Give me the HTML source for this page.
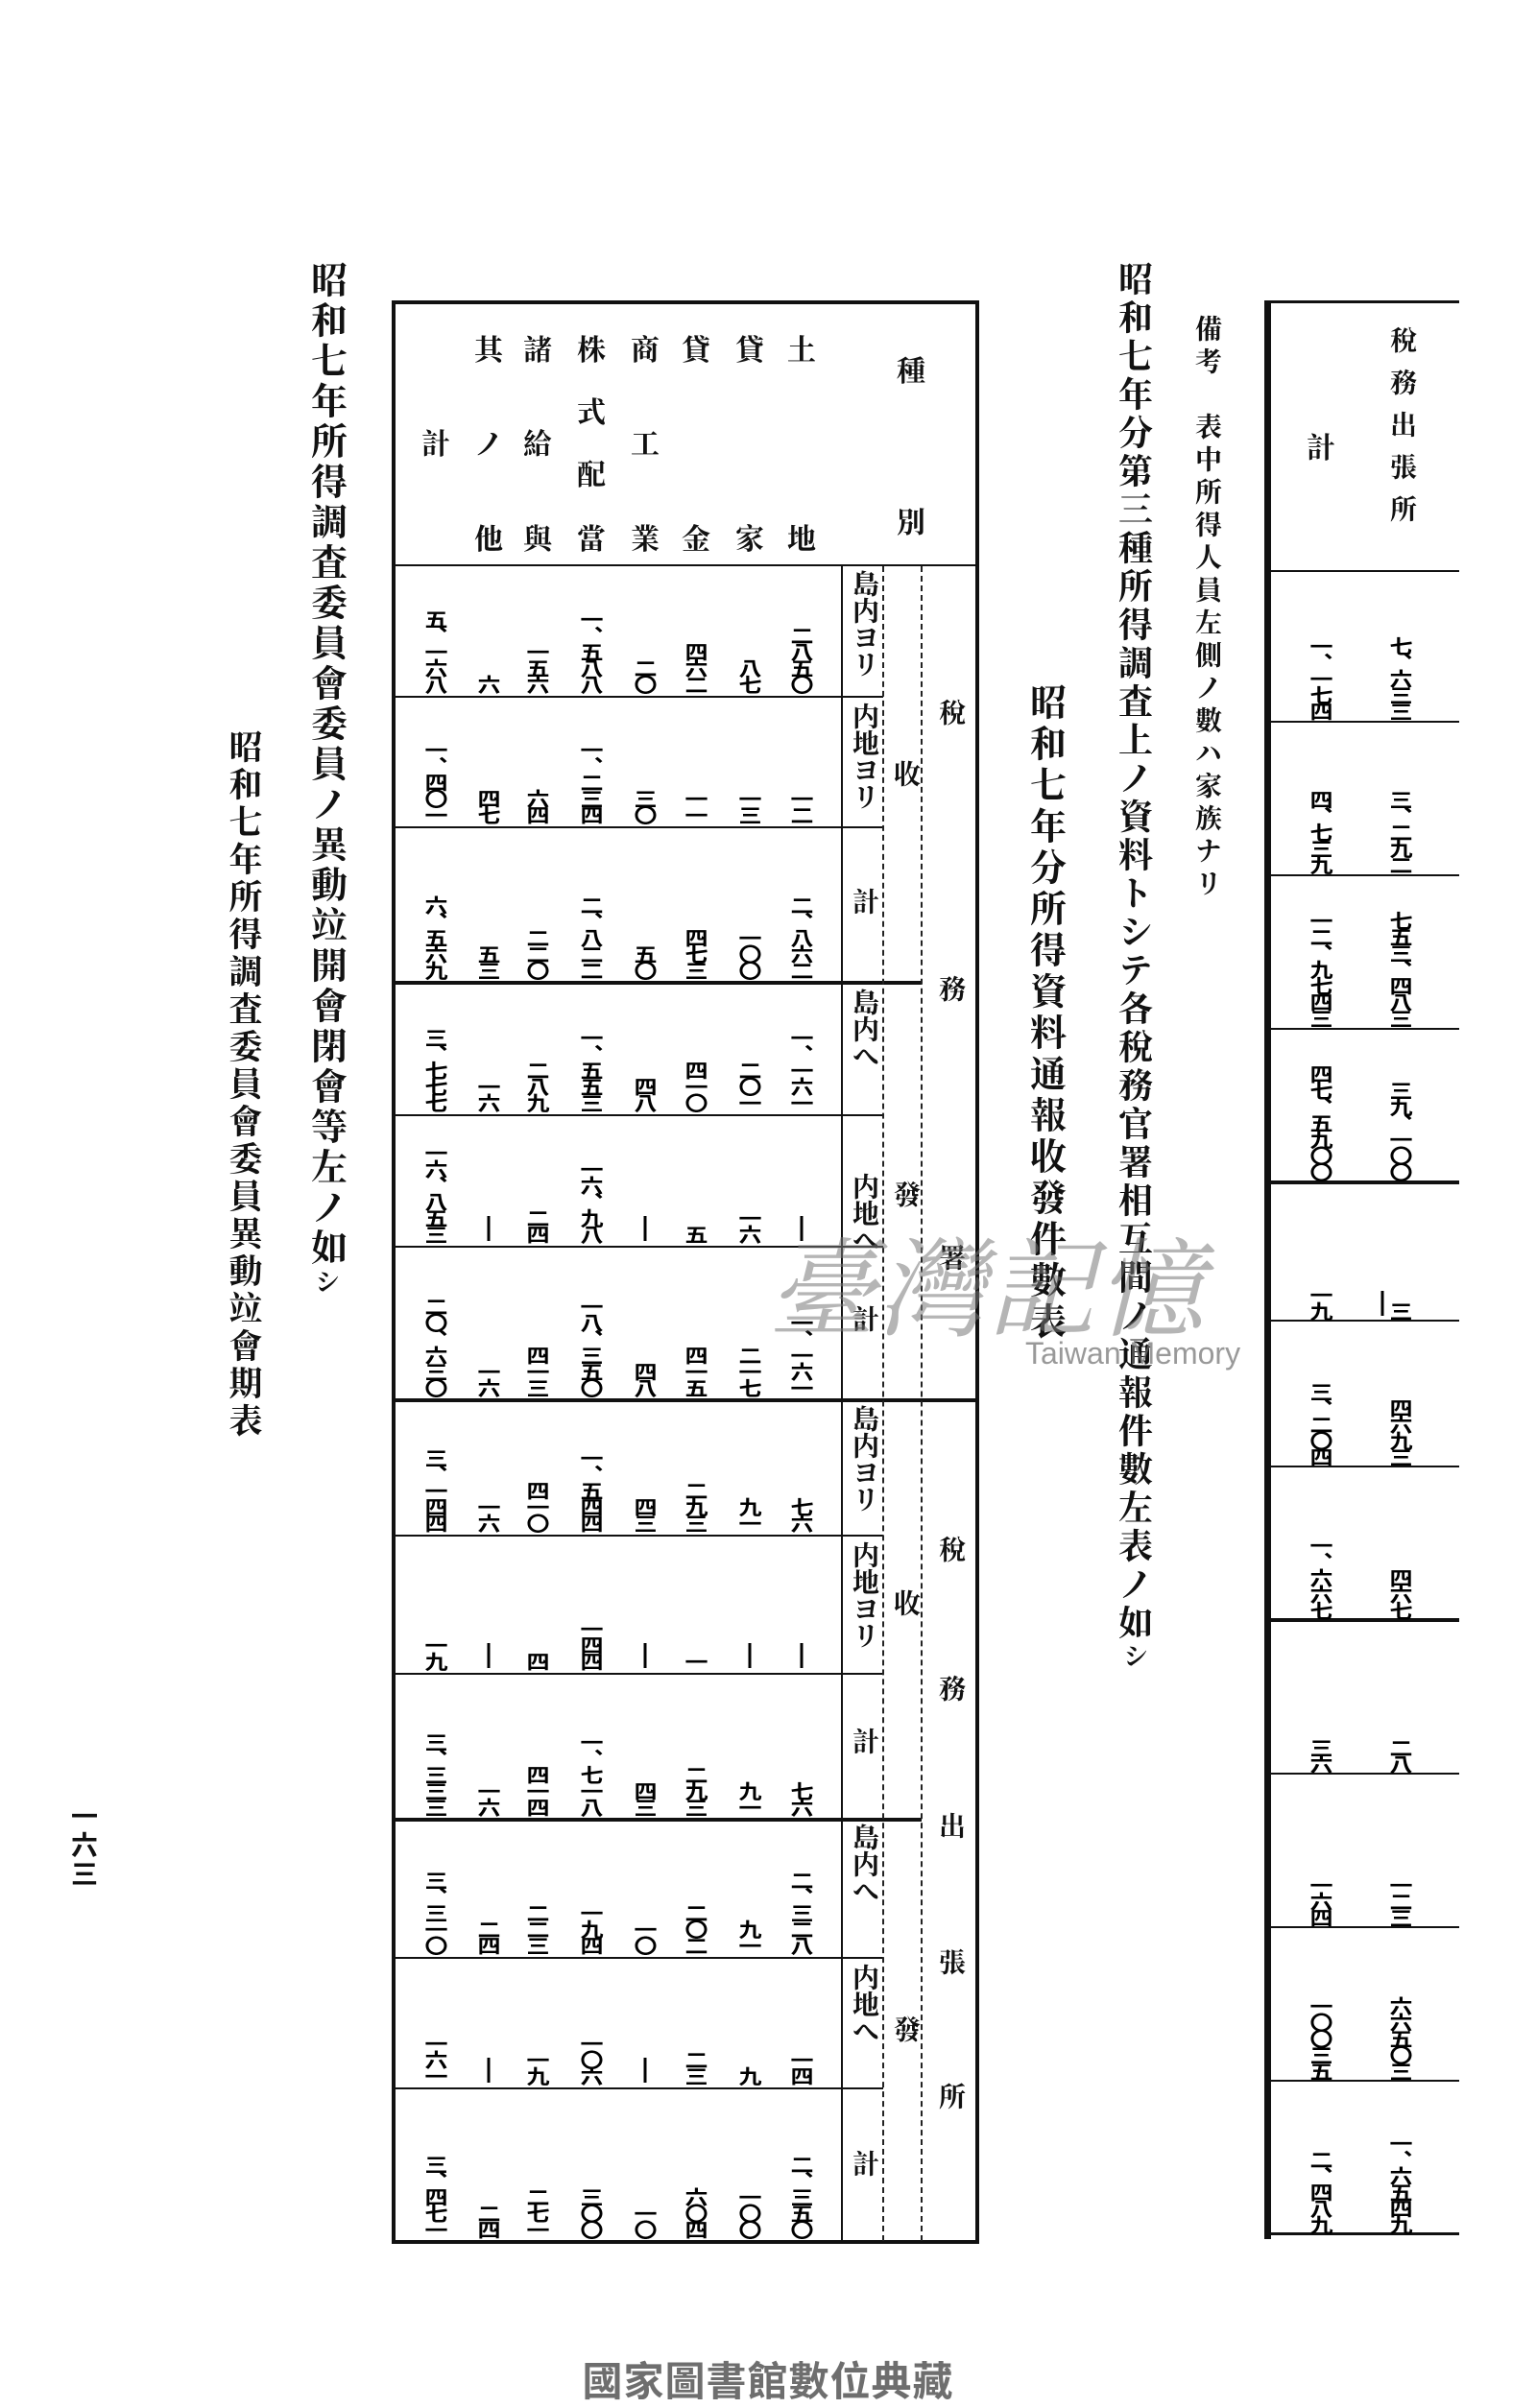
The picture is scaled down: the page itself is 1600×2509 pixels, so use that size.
<!DOCTYPE html>
<html><head><meta charset="utf-8">
<style>
html,body{margin:0;padding:0;background:#fff;}
body{width:1600px;height:2500px;position:relative;overflow:hidden;font-family:"Liberation Serif","Noto Serif CJK SC","Noto Sans CJK JP",serif;color:#111;}
.v{position:absolute;writing-mode:vertical-rl;transform:translateX(-50%);white-space:nowrap;}
.h{position:absolute;background:#111;}
.n{position:absolute;writing-mode:vertical-rl;transform:translateX(-50%) scaleY(0.85);transform-origin:50% 100%;font-family:"Noto Sans CJK JP","Noto Sans CJK SC",sans-serif;font-size:24px;line-height:26px;letter-spacing:-4px;white-space:nowrap;font-weight:bold;color:#000;}
.bar{position:absolute;width:3px;height:26px;background:#000;transform:translateX(-50%);}
.c1{left:835px}.c2{left:781px}.c3{left:725px}.c4{left:672px}.c5{left:616px}.c6{left:560px}.c7{left:509px}.c8{left:454px}
.r1{bottom:1780px}.r2{bottom:1644px}.r3{bottom:1482px}.r4{bottom:1344px}.r5{bottom:1207px}.r6{bottom:1047px}
.r7{bottom:906px}.r8{bottom:762px}.r9{bottom:610px}.r10{bottom:466px}.r11{bottom:330px}.r12{bottom:170px}
.hd{position:absolute;font-size:30px;font-weight:bold;transform:translateX(-50%);}
.lab{position:absolute;writing-mode:vertical-rl;transform:translateX(-50%);font-size:28px;font-weight:bold;line-height:30px;white-space:nowrap;}
.dash{position:absolute;width:0;border-left:2px dashed #222;}
.R1{left:1459px}.R2{left:1376px}
</style></head><body>

<div class="v" style="left:339px;top:272px;font-size:38px;letter-spacing:4px;font-weight:bold;">昭和七年所得調査委員會委員ノ異動竝開會閉會等左ノ如<span style="font-size:26px">シ</span></div>
<div class="v" style="left:253px;top:760px;font-size:35px;letter-spacing:4px;font-weight:bold;">昭和七年所得調査委員會委員異動竝會期表</div>
<div class="v" style="left:1181px;top:272px;font-size:36px;letter-spacing:4px;font-weight:bold;">昭和七年分第三種所得調査上ノ資料トシテ各稅務官署相互間ノ通報件數左表ノ如<span style="font-size:26px">シ</span></div>
<div class="v" style="left:1088px;top:712px;font-size:38px;letter-spacing:5px;font-weight:bold;">昭和七年分所得資料通報收發件數表</div>
<div class="v" style="left:1256px;top:328px;font-size:28px;letter-spacing:6px;font-weight:bold;">備考　表中所得人員左側ノ數ハ家族ナリ</div>
<div class="v" style="left:88px;top:1878px;font-size:28px;font-weight:bold;letter-spacing:2px;font-family:'Noto Sans CJK JP',sans-serif;">一六三</div>

<div class="h" style="left:410px;top:313px;width:610px;height:4px"></div>
<div class="h" style="left:408px;top:313px;width:4px;height:2025px"></div>
<div class="h" style="left:1016px;top:313px;width:4px;height:2025px"></div>
<div class="h" style="left:410px;top:2334px;width:610px;height:4px"></div>
<div class="h" style="left:410px;top:588px;width:610px;height:2px"></div>
<div class="h" style="left:410px;top:725px;width:510px;height:2px"></div>
<div class="h" style="left:410px;top:861px;width:510px;height:2px"></div>
<div class="h" style="left:410px;top:1022px;width:550px;height:4px"></div>
<div class="h" style="left:410px;top:1161px;width:510px;height:2px"></div>
<div class="h" style="left:410px;top:1298px;width:510px;height:2px"></div>
<div class="h" style="left:410px;top:1457px;width:610px;height:4px"></div>
<div class="h" style="left:410px;top:1599px;width:510px;height:2px"></div>
<div class="h" style="left:410px;top:1743px;width:510px;height:2px"></div>
<div class="h" style="left:410px;top:1894px;width:550px;height:4px"></div>
<div class="h" style="left:410px;top:2039px;width:510px;height:2px"></div>
<div class="h" style="left:410px;top:2175px;width:510px;height:2px"></div>
<div class="h" style="left:876px;top:590px;width:2px;height:1745px"></div>
<div class="dash" style="left:919px;top:590px;height:1745px"></div>
<div class="dash" style="left:959px;top:590px;height:1745px"></div>

<div class="hd" style="left:835px;top:340px">土</div><div class="hd" style="left:835px;top:537px">地</div>
<div class="hd" style="left:781px;top:340px">貸</div><div class="hd" style="left:781px;top:537px">家</div>
<div class="hd" style="left:725px;top:340px">貸</div><div class="hd" style="left:725px;top:537px">金</div>
<div class="hd" style="left:672px;top:340px">商</div><div class="hd" style="left:672px;top:438px">工</div><div class="hd" style="left:672px;top:537px">業</div>
<div class="hd" style="left:616px;top:340px">株</div><div class="hd" style="left:616px;top:405px">式</div><div class="hd" style="left:616px;top:470px">配</div><div class="hd" style="left:616px;top:537px">當</div>
<div class="hd" style="left:560px;top:340px">諸</div><div class="hd" style="left:560px;top:438px">給</div><div class="hd" style="left:560px;top:537px">與</div>
<div class="hd" style="left:509px;top:340px">其</div><div class="hd" style="left:509px;top:438px">ノ</div><div class="hd" style="left:509px;top:537px">他</div>
<div class="hd" style="left:454px;top:438px">計</div>
<div class="hd" style="left:949px;top:362px">種</div><div class="hd" style="left:949px;top:520px">別</div>

<div class="lab" style="left:899px;top:594px">島内ヨリ</div>
<div class="lab" style="left:899px;top:732px">内地ヨリ</div>
<div class="lab" style="left:899px;top:925px">計</div>
<div class="lab" style="left:899px;top:1030px">島内へ</div>
<div class="lab" style="left:899px;top:1222px">内地へ</div>
<div class="lab" style="left:899px;top:1360px">計</div>
<div class="lab" style="left:899px;top:1464px">島内ヨリ</div>
<div class="lab" style="left:899px;top:1606px">内地ヨリ</div>
<div class="lab" style="left:899px;top:1800px">計</div>
<div class="lab" style="left:899px;top:1900px">島内へ</div>
<div class="lab" style="left:899px;top:2046px">内地へ</div>
<div class="lab" style="left:899px;top:2240px">計</div>
<div class="lab" style="left:942px;top:792px">收</div>
<div class="lab" style="left:942px;top:1230px">發</div>
<div class="lab" style="left:942px;top:1656px">收</div>
<div class="lab" style="left:942px;top:2100px">發</div>
<div class="lab" style="left:989px;top:728px">稅</div>
<div class="lab" style="left:989px;top:1016px">務</div>
<div class="lab" style="left:989px;top:1296px">署</div>
<div class="lab" style="left:989px;top:1600px">稅</div>
<div class="lab" style="left:989px;top:1745px">務</div>
<div class="lab" style="left:989px;top:1888px">出</div>
<div class="lab" style="left:989px;top:2030px">張</div>
<div class="lab" style="left:989px;top:2170px">所</div>

<div class="n c1 r1">二八五〇</div><div class="n c2 r1">八七</div><div class="n c3 r1">四六二</div><div class="n c4 r1">二〇</div><div class="n c5 r1">一、五八八</div><div class="n c6 r1">一五六</div><div class="n c7 r1">六</div><div class="n c8 r1">五、一六八</div>
<div class="n c1 r2">一二</div><div class="n c2 r2">一三</div><div class="n c3 r2">一一</div><div class="n c4 r2">三〇</div><div class="n c5 r2">一、二三四</div><div class="n c6 r2">六四</div><div class="n c7 r2">四七</div><div class="n c8 r2">一、四〇一</div>
<div class="n c1 r3">二、八六二</div><div class="n c2 r3">一〇〇</div><div class="n c3 r3">四七三</div><div class="n c4 r3">五〇</div><div class="n c5 r3">二、八二二</div><div class="n c6 r3">二二〇</div><div class="n c7 r3">五三</div><div class="n c8 r3">六、五六九</div>
<div class="n c1 r4">一、一六一</div><div class="n c2 r4">二〇一</div><div class="n c3 r4">四一〇</div><div class="n c4 r4">四八</div><div class="n c5 r4">一、五五三</div><div class="n c6 r4">二八九</div><div class="n c7 r4">一六</div><div class="n c8 r4">三、七七七</div>
<div class="bar c1 r5"></div><div class="n c2 r5">一六</div><div class="n c3 r5">五</div><div class="bar c4 r5"></div><div class="n c5 r5">一六、九八</div><div class="n c6 r5">二四</div><div class="bar c7 r5"></div><div class="n c8 r5">一六、八五三</div>
<div class="n c1 r6">一、一六一</div><div class="n c2 r6">二一七</div><div class="n c3 r6">四一五</div><div class="n c4 r6">四八</div><div class="n c5 r6">一八、三五〇</div><div class="n c6 r6">四一三</div><div class="n c7 r6">一六</div><div class="n c8 r6">二〇、六三〇</div>
<div class="n c1 r7">七六</div><div class="n c2 r7">九一</div><div class="n c3 r7">二九三</div><div class="n c4 r7">四三</div><div class="n c5 r7">一、五四四</div><div class="n c6 r7">四一〇</div><div class="n c7 r7">一六</div><div class="n c8 r7">三、一四四</div>
<div class="bar c1 r8"></div><div class="bar c2 r8"></div><div class="n c3 r8">一</div><div class="bar c4 r8"></div><div class="n c5 r8">一四四</div><div class="n c6 r8">四</div><div class="bar c7 r8"></div><div class="n c8 r8">一九</div>
<div class="n c1 r9">七六</div><div class="n c2 r9">九一</div><div class="n c3 r9">二九三</div><div class="n c4 r9">四三</div><div class="n c5 r9">一、七一八</div><div class="n c6 r9">四一四</div><div class="n c7 r9">一六</div><div class="n c8 r9">三、三三三</div>
<div class="n c1 r10">二、三二八</div><div class="n c2 r10">九一</div><div class="n c3 r10">二〇二</div><div class="n c4 r10">一〇</div><div class="n c5 r10">一九四</div><div class="n c6 r10">二二三</div><div class="n c7 r10">二四</div><div class="n c8 r10">三、三一〇</div>
<div class="n c1 r11">一四</div><div class="n c2 r11">九</div><div class="n c3 r11">二三</div><div class="bar c4 r11"></div><div class="n c5 r11">一〇六</div><div class="n c6 r11">一九</div><div class="bar c7 r11"></div><div class="n c8 r11">一六一</div>
<div class="n c1 r12">二、三五〇</div><div class="n c2 r12">一〇〇</div><div class="n c3 r12">六〇四</div><div class="n c4 r12">一〇</div><div class="n c5 r12">三〇〇</div><div class="n c6 r12">二七一</div><div class="n c7 r12">二四</div><div class="n c8 r12">三、四七一</div>

<div class="h" style="left:1317px;top:313px;width:7px;height:2020px"></div>
<div class="h" style="left:1320px;top:313px;width:200px;height:3px"></div>
<div class="h" style="left:1320px;top:594px;width:200px;height:2px"></div>
<div class="h" style="left:1320px;top:751px;width:200px;height:2px"></div>
<div class="h" style="left:1320px;top:911px;width:200px;height:2px"></div>
<div class="h" style="left:1320px;top:1071px;width:200px;height:2px"></div>
<div class="h" style="left:1320px;top:1230px;width:200px;height:4px"></div>
<div class="h" style="left:1320px;top:1375px;width:200px;height:2px"></div>
<div class="h" style="left:1320px;top:1527px;width:200px;height:2px"></div>
<div class="h" style="left:1320px;top:1686px;width:200px;height:4px"></div>
<div class="h" style="left:1320px;top:1847px;width:200px;height:2px"></div>
<div class="h" style="left:1320px;top:2007px;width:200px;height:2px"></div>
<div class="h" style="left:1320px;top:2167px;width:200px;height:2px"></div>
<div class="h" style="left:1320px;top:2326px;width:200px;height:3px"></div>
<div class="v" style="left:1459px;top:340px;font-size:28px;letter-spacing:16px;font-weight:bold;">稅務出張所</div>
<div class="hd" style="left:1376px;top:442px">計</div>

<div class="n R1" style="bottom:1752px">七、六三三</div><div class="n R2" style="bottom:1752px">一、一七四</div>
<div class="n R1" style="bottom:1592px">三、二九二</div><div class="n R2" style="bottom:1592px">四、七三九</div>
<div class="n R1" style="bottom:1432px">七五三、四八三</div><div class="n R2" style="bottom:1432px">一二、九七四三</div>
<div class="n R1" style="bottom:1272px">三九、一〇〇</div><div class="n R2" style="bottom:1272px">四七、五九〇〇</div>
<div class="n R1" style="bottom:1127px">三</div><div class="bar" style="left:1440px;bottom:1129px"></div><div class="n R2" style="bottom:1127px">一九</div>
<div class="n R1" style="bottom:975px">四六九三</div><div class="n R2" style="bottom:975px">三、二〇四</div>
<div class="n R1" style="bottom:815px">四六七</div><div class="n R2" style="bottom:815px">一、六六七</div>
<div class="n R1" style="bottom:655px">二八</div><div class="n R2" style="bottom:655px">三六</div>
<div class="n R1" style="bottom:495px">一二三</div><div class="n R2" style="bottom:495px">一六四</div>
<div class="n R1" style="bottom:335px">六六五〇三</div><div class="n R2" style="bottom:335px">一〇〇三五</div>
<div class="n R1" style="bottom:175px">一、六五四九</div><div class="n R2" style="bottom:175px">二、四八九</div>

<div style="position:absolute;left:800px;top:1255px;font-size:112px;color:rgba(120,120,120,0.55);font-family:'Liberation Serif','Noto Serif CJK SC',serif;letter-spacing:2px;white-space:nowrap;font-style:italic;">臺灣記憶</div>
<div style="position:absolute;left:1068px;top:1392px;font-size:32px;color:rgba(110,110,110,0.7);font-family:'Liberation Sans',sans-serif;white-space:nowrap;">Taiwan Memory</div>

<div style="position:absolute;left:0;width:1600px;top:2448px;text-align:center;font-size:42px;color:#6e6e6e;font-weight:bold;font-family:'Liberation Sans','Noto Sans CJK TC',sans-serif;letter-spacing:1px;">國家圖書館數位典藏</div>
</body></html>
